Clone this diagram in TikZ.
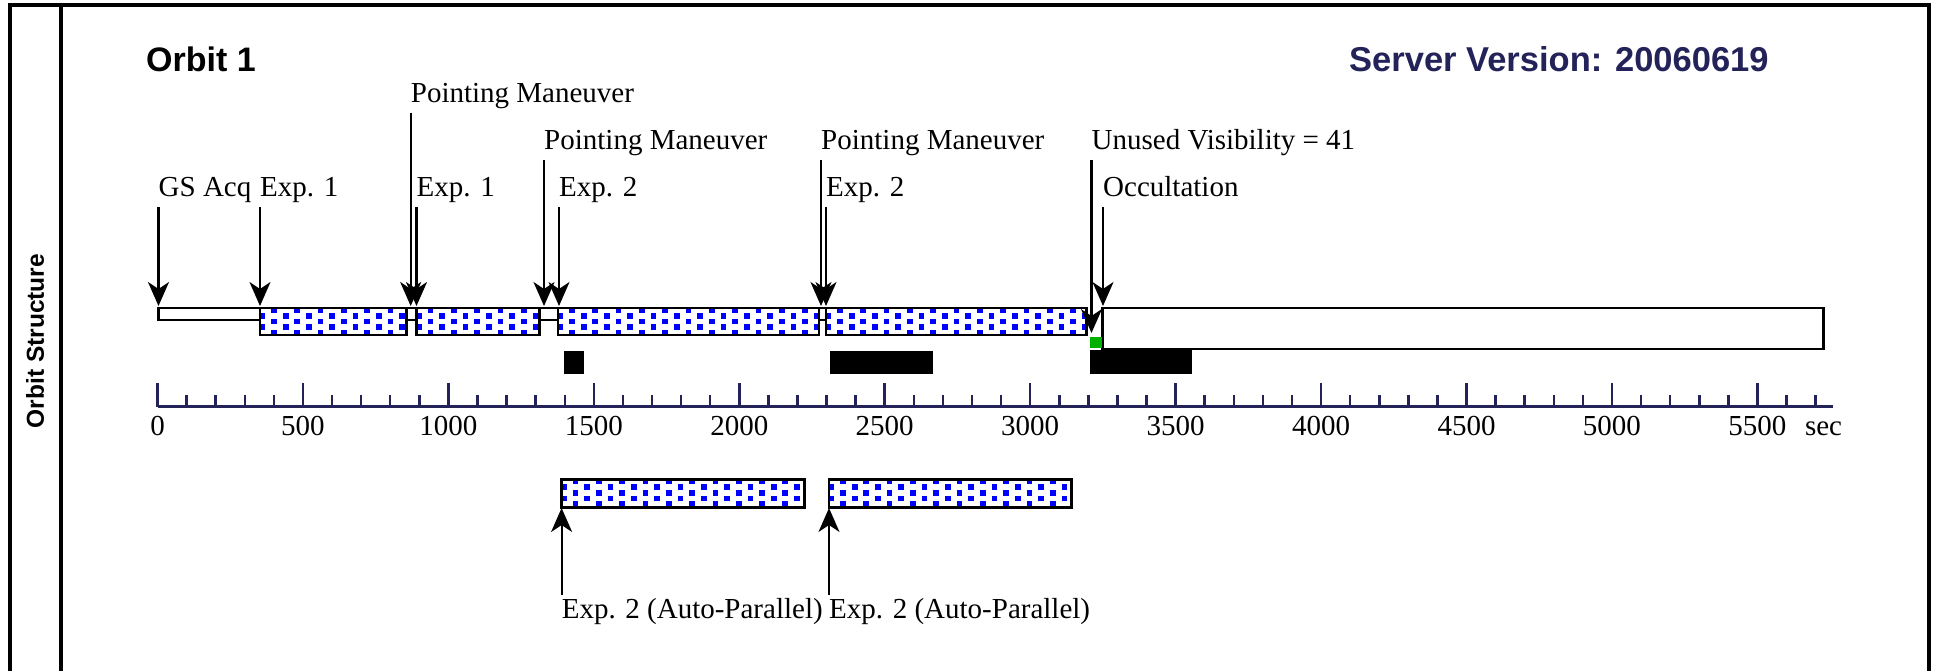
\documentclass[tikz,border=0pt]{standalone}
\usepackage{fontspec}
\setmainfont{Liberation Serif}
\newfontfamily\hsans{Liberation Sans}
\usetikzlibrary{arrows.meta}
\definecolor{navy}{RGB}{35,35,90}
\definecolor{dotblue}{RGB}{0,0,255}
\definecolor{occgreen}{RGB}{0,176,0}
\tikzset{
  lbl/.style={anchor=base west, inner sep=0pt, font=\fontsize{29}{33}\selectfont},
  ticklbl/.style={anchor=base, inner sep=0pt, font=\fontsize{29}{33}\selectfont},
  arr/.style={line width=2.2pt, -{Stealth[length=24pt,width=21pt,inset=7pt]}},
  barline/.style={line width=2.8pt, draw=black},
  whitebar/.style={barline, fill=white},
  axisline/.style={draw=navy, line width=3pt},
  tickline/.style={draw=navy, line width=2.5pt},
}
\newcommand\dotbar[4]{%
  \begin{scope}
    \clip (#1,#2) rectangle (#3,#4);
    \fill[white] (#1,#2) rectangle (#3,#4);
    \foreach \r in {0,...,5}{
      \foreach \k in {0,...,12}{
        \fill[dotblue] ({#1-0.5+mod(\r+1,2)*11.65+\k*23.3},{#2-1+\r*5.75}) rectangle ++(5.7,5.75);
      }
    }
  \end{scope}
  \draw[barline] (#1,#2) rectangle (#3,#4);
}
\newcommand\evt[5]{%
  \node[lbl] (n#1) at (#2,#3) {#5};
  \coordinate (s#1) at ({#2},{#3+10});
  \coordinate (e#1) at ({#2},{#4});
  \draw[arr] (s#1) -- (e#1);
}
\begin{document}
\begin{tikzpicture}[x=1pt,y=-1pt]
\useasboundingbox (0,0) rectangle (1939,671);
\clip (0,0) rectangle (1939,671);
\fill[white] (0,0) rectangle (1939,671);
% frame
\draw[line width=4pt] (9.5,690) -- (9.5,5) -- (1929,5) -- (1929,690);
\draw[line width=4pt] (60.5,5) -- (60.5,690);
\node[rotate=90, inner sep=0pt, font=\hsans\bfseries\fontsize{24.5}{28}\selectfont] (side) at (35,341) {Orbit Structure};
% titles
\node[anchor=base west, inner sep=0pt, font=\hsans\bfseries\fontsize{34}{40}\selectfont] (title) at (146,72) {Orbit 1};
\node[anchor=base west, inner sep=0pt, text=navy, font=\hsans\bfseries\fontsize{34.5}{40}\selectfont] (server) at (1349,72) {Server Version: 20060619};
% bars
\draw[whitebar] (158.5,308) rectangle (260,320);
\dotbar{260}{308}{406.5}{335}
\draw[whitebar] (406.5,308) rectangle (416.5,320);
\dotbar{416.5}{308}{539.5}{335}
\draw[whitebar] (539.5,308) rectangle (558,320);
\dotbar{558}{308}{819}{335}
\draw[whitebar] (819,308) rectangle (826,320);
\dotbar{826}{308}{1086.5}{335}
\draw[whitebar] (1102.7,308) rectangle (1823.5,349);
\fill[occgreen] (1090,337) rectangle (1102,348);
\fill[black] (564,351) rectangle (584,374);
\fill[black] (830,351) rectangle (933,374);
\fill[black] (1090,350) rectangle (1192,374);
% auto-parallel bars
\dotbar{561.6}{479.3}{804.5}{507.3}
\dotbar{829}{479.3}{1071.4}{507.3}
% axis
\draw[axisline] (157.5,406.7) -- (1833,406.7);
\foreach \t in {0,100,...,5700}
  \draw[tickline] ({157.5+0.2909*\t},406.7) -- ({157.5+0.2909*\t},395);
\foreach \t in {0,500,...,5500}{
  \draw[tickline] ({157.5+0.2909*\t},406.7) -- ({157.5+0.2909*\t},383);
  \node[ticklbl] (tick\t) at ({157.5+0.2909*\t},435) {\t};
}
\node[ticklbl] (sec) at (1823.5,435) {sec};
% events
\evt{gs}{158.5}{197}{306}{GS Acq}
\evt{ea}{260}{197}{306}{Exp. 1}
\evt{pa}{410.7}{103}{306}{Pointing Maneuver}
\evt{eb}{416.5}{197}{306}{Exp. 1}
\evt{pb}{544}{150}{306}{Pointing Maneuver}
\evt{ec}{559}{197}{306}{Exp. 2}
\evt{pc}{821}{150}{306}{Pointing Maneuver}
\evt{ed}{826}{197}{306}{Exp. 2}
\evt{uv}{1091.5}{150}{333}{Unused Visibility = 41}
\evt{oc}{1103}{197}{306}{Occultation}
% auto-parallel arrows
\node[lbl] (nap1) at (561.6,618) {Exp. 2 (Auto-Parallel)};
\coordinate (sap1) at (561.6,595);
\coordinate (eap1) at (561.6,508);
\draw[arr] (sap1) -- (eap1);
\node[lbl] (nap2) at (829,618) {Exp. 2 (Auto-Parallel)};
\coordinate (sap2) at (829,595);
\coordinate (eap2) at (829,508);
\draw[arr] (sap2) -- (eap2);
\end{tikzpicture}
\end{document}
